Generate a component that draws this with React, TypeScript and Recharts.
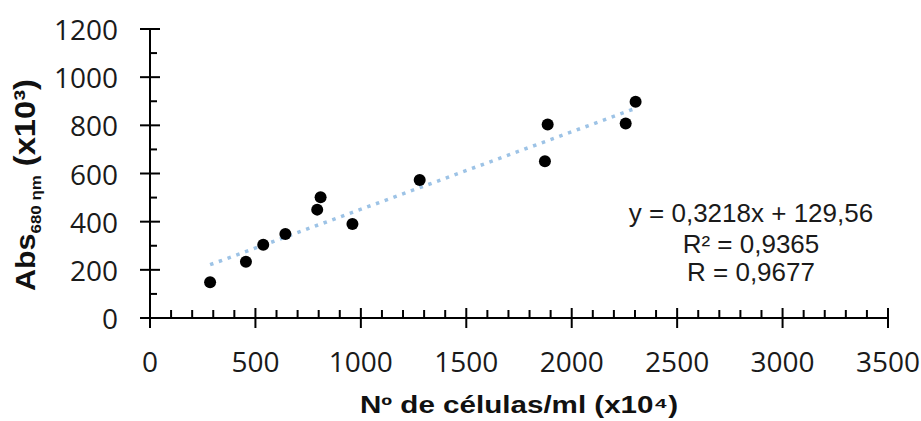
import React from "react";
import { ScatterChart, Scatter, XAxis, YAxis, ReferenceLine } from "recharts";

// readings from the plot: cell count (x10^4) vs absorbance at 680 nm (x10^3)
const cellCounts = [285, 455, 537, 642, 793, 809, 960, 1279, 1873, 1886, 2256, 2303];
const absorbance = [148, 234, 304, 349, 450, 501, 390, 573, 651, 803, 808, 898];

const xTicks = [
  0, 100, 200, 300, 400, 500, 600, 700, 800, 900, 1000, 1100, 1200, 1300, 1400, 1500, 1600, 1700,
  1800, 1900, 2000, 2100, 2200, 2300, 2400, 2500, 2600, 2700, 2800, 2900, 3000, 3100, 3200, 3300,
  3400, 3500,
];
const yTicks = [0, 100, 200, 300, 400, 500, 600, 700, 800, 900, 1000, 1100, 1200];

// fitted trend line from the chart annotation
const slope = 0.3218;
const intercept = 129.56;
const fitRange = [285, 2303];
const equationLines = ["y = 0,3218x + 129,56", "R² = 0,9365", "R = 0,9677"];

const points = cellCounts.map((x, i) => ({ x, y: absorbance[i] }));

const labelFont = "'Open Sans', sans-serif";
const textFont = "'Liberation Sans', Arial, sans-serif";

function XTick(props: any) {
  const { x, y, payload } = props;
  const major = payload.value % 500 === 0;
  if (!major) return <line x1={x} y1={y} x2={x} y2={y - 8} stroke="#000" strokeWidth={2} />;
  return (
    <g>
      <line x1={x} y1={y - 10} x2={x} y2={y + 10} stroke="#000" strokeWidth={2} />
      <text x={x} y={y + 43} textAnchor="middle" dominantBaseline="central" fontFamily={labelFont} fontSize={28} fill="#1a1a1a">
        {payload.value}
      </text>
    </g>
  );
}

function YTick(props: any) {
  const { x, y, payload } = props;
  const major = payload.value % 200 === 0;
  if (!major) return <line x1={x} y1={y} x2={x + 7} y2={y} stroke="#000" strokeWidth={2} />;
  return (
    <g>
      <line x1={x - 10} y1={y} x2={x + 10} y2={y} stroke="#000" strokeWidth={2} />
      <text x={x - 32} y={y} textAnchor="end" dominantBaseline="central" fontFamily={labelFont} fontSize={28} fill="#1a1a1a">
        {payload.value}
      </text>
    </g>
  );
}

const Dot = (props: any) => <circle cx={props.cx} cy={props.cy} r={6} fill="#000" />;

export default function App() {
  return (
    <div style={{ position: "fixed", left: 0, top: 0, width: 921, height: 421, background: "#fff" }}>
      <ScatterChart width={921} height={421} margin={{ top: 29, right: 33, left: 0, bottom: 0 }}>
        <XAxis
          type="number"
          dataKey="x"
          domain={[0, 3500]}
          ticks={xTicks}
          interval={0}
          height={103}
          tickSize={0}
          tickMargin={0}
          tickLine={false}
          tick={<XTick />}
          axisLine={{ stroke: "#000", strokeWidth: 2 }}
        />
        <YAxis
          type="number"
          dataKey="y"
          domain={[0, 1200]}
          ticks={yTicks}
          interval={0}
          width={150}
          tickSize={0}
          tickMargin={0}
          tickLine={false}
          tick={<YTick />}
          axisLine={{ stroke: "#000", strokeWidth: 2 }}
        />
        <ReferenceLine
          segment={[
            { x: fitRange[0], y: slope * fitRange[0] + intercept },
            { x: fitRange[1], y: slope * fitRange[1] + intercept },
          ]}
          stroke="#9dc3e6"
          strokeWidth={3.5}
          strokeDasharray="3.5 5.8"
        />
        <Scatter data={points} shape={<Dot />} isAnimationActive={false} />
      </ScatterChart>
      <svg width={921} height={421} style={{ position: "absolute", left: 0, top: 0, pointerEvents: "none" }}>
        {equationLines.map((line, i) => (
          <text key={line} x={751} y={[213, 244, 272][i]} textAnchor="middle" dominantBaseline="central" fontFamily={textFont} fontSize={26} fill="#1a1a1a">
            {line}
          </text>
        ))}
        <text x={519} y={405} textAnchor="middle" dominantBaseline="central" fontFamily={textFont} fontWeight="bold" fontSize={23} fill="#111" textLength={318} lengthAdjust="spacingAndGlyphs">
          Nº de células/ml (x10⁴)
        </text>
        <text transform="translate(35,185) rotate(-90)" textAnchor="middle" fontFamily={textFont} fontWeight="bold" fontSize={27} fill="#111" textLength={212} lengthAdjust="spacingAndGlyphs">
          Abs
          <tspan fontSize={15} dy={6}>680 ηm</tspan>
          <tspan fontSize={29} dy={-6}> (x10³)</tspan>
        </text>
      </svg>
    </div>
  );
}
